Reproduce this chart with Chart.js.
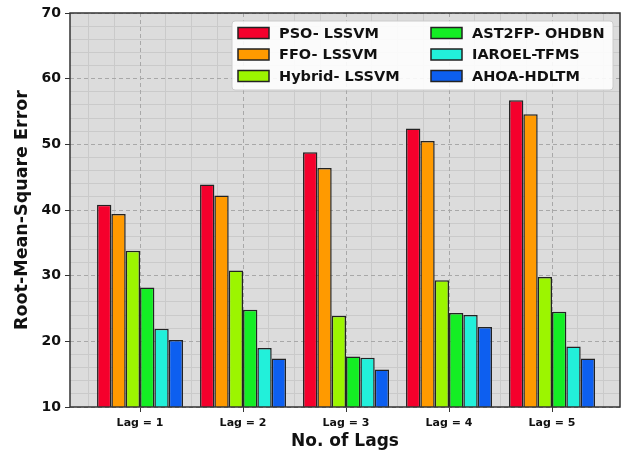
<!DOCTYPE html>
<html>
<head>
<meta charset="utf-8">
<script src="https://cdn.jsdelivr.net/npm/chart.js@4.4.1/dist/chart.umd.min.js"></script>
<style>
  html, body { margin: 0; padding: 0; background: #fff; }
  #wrap { width: 625px; height: 452px; }
</style>
</head>
<body>
<div id="wrap"><canvas id="rmseChart" width="625" height="452"></canvas></div>
<script>
// chart data
const categories = ["Lag = 1", "Lag = 2", "Lag = 3", "Lag = 4", "Lag = 5"];
const seriesNames = ["PSO- LSSVM", "FFO- LSSVM", "Hybrid- LSSVM", "AST2FP- OHDBN", "IAROEL-TFMS", "AHOA-HDLTM"];
const psoLssvm = [40.8, 43.9, 48.8, 52.4, 56.7];
const ffoLssvm = [39.4, 42.2, 46.4, 50.5, 54.6];
const hybridLssvm = [33.8, 30.8, 23.9, 29.3, 29.8];
const ast2fpOhdbn = [28.2, 24.8, 17.7, 24.3, 24.5];
const iaroelTfms = [21.9, 19.0, 17.5, 24.0, 19.2];
const ahoaHdltm = [20.2, 17.4, 15.7, 22.2, 17.4];
const yTicks = [10, 20, 30, 40, 50, 60, 70];

const colors = ["#f5002c", "#ff9a00", "#9cf500", "#14ee24", "#22f0da", "#0d5ff0"];
const allSeries = [psoLssvm, ffoLssvm, hybridLssvm, ast2fpOhdbn, iaroelTfms, ahoaHdltm];

const datasets = allSeries.map((vals, i) => ({
  label: seriesNames[i],
  data: vals.map((v, j) => ({ x: j, y: v })),
  backgroundColor: colors[i],
  borderColor: "#222",
  borderWidth: 1.5,
  borderSkipped: false,
  barPercentage: 1,
  categoryPercentage: 0.835,
}));

const X_MIN = -0.68, X_MAX = 4.66;

// grey plot background + frame
const plotFrame = {
  id: "plotFrame",
  beforeDraw(chart) {
    const { ctx, chartArea: a } = chart;
    ctx.save();
    ctx.fillStyle = "#dcdcdc";
    ctx.fillRect(a.left, a.top, a.right - a.left, a.bottom - a.top);
    ctx.restore();
  },
  afterDatasetsDraw(chart) {
    const { ctx, chartArea: a } = chart;
    ctx.save();
    ctx.strokeStyle = "#333";
    ctx.lineWidth = 1.5;
    ctx.strokeRect(a.left, a.top, a.right - a.left, a.bottom - a.top);
    ctx.restore();
  },
};

// two-column legend inside the plot
const boxLegend = {
  id: "boxLegend",
  afterDraw(chart) {
    const { ctx, chartArea: a } = chart;
    const x0 = a.right - 388, y0 = a.top + 8, w = 381, h = 69;
    ctx.save();
    ctx.fillStyle = "rgba(255,255,255,0.88)";
    ctx.strokeStyle = "#cccccc";
    ctx.lineWidth = 1;
    ctx.beginPath();
    ctx.roundRect(x0, y0, w, h, 3);
    ctx.fill();
    ctx.stroke();
    ctx.font = "bold 14.5px 'DejaVu Sans'";
    ctx.textBaseline = "middle";
    chart.data.datasets.forEach((ds, i) => {
      const col = Math.floor(i / 3), row = i % 3;
      const sx = x0 + 6 + col * 193;
      const cy = y0 + 12 + row * 21.5;
      ctx.fillStyle = ds.backgroundColor;
      ctx.strokeStyle = "#222";
      ctx.lineWidth = 1.5;
      ctx.fillRect(sx, cy - 5.5, 31, 11);
      ctx.strokeRect(sx, cy - 5.5, 31, 11);
      ctx.fillStyle = "#111";
      ctx.fillText(ds.label, sx + 41, cy + 1);
    });
    ctx.restore();
  },
};

new Chart(document.getElementById("rmseChart"), {
  type: "bar",
  data: { datasets },
  plugins: [plotFrame, boxLegend],
  options: {
    responsive: false,
    animation: false,
    layout: { padding: { top: 13, right: 5, left: 0, bottom: 0 } },
    plugins: { legend: { display: false }, tooltip: { enabled: false } },
    scales: {
      x: {
        type: "linear",
        min: X_MIN,
        max: X_MAX,
        offset: false,
        afterBuildTicks: (s) => { s.ticks = categories.map((c, i) => ({ value: i })); },
        afterFit: (s) => { s.height = 45; },
        ticks: {
          callback: (v) => categories[v],
          color: "#111",
          font: { family: "DejaVu Sans", weight: "bold", size: 11 },
          padding: 5,
          maxRotation: 0,
        },
        grid: { offset: false, color: "#a8a8a8", lineWidth: 1, tickColor: "#333", tickLength: 5, drawTicks: true },
        border: { display: false, dash: [4, 3] },
        title: {
          display: true,
          text: "No. of Lags",
          color: "#111",
          font: { family: "DejaVu Sans", weight: "bold", size: 17 },
          padding: { top: 0, bottom: 0 },
        },
      },
      xMinor: {
        type: "linear",
        position: "bottom",
        min: X_MIN,
        max: X_MAX,
        offset: false,
        afterBuildTicks: (s) => {
          const t = [];
          for (let i = 0; i < categories.length; i++) [-0.5, -0.25, 0.25, 0.5].forEach((d) => t.push({ value: i + d }));
          s.ticks = t.filter((k) => k.value > X_MIN && k.value < X_MAX);
        },
        afterFit: (s) => { s.height = 0; },
        ticks: { display: false },
        grid: { offset: false, color: "#cacaca", lineWidth: 1, z: -2, drawTicks: false },
        border: { display: false },
      },
      y: {
        min: 10,
        max: 70,
        afterBuildTicks: (s) => { s.ticks = yTicks.map((v) => ({ value: v })); },
        afterFit: (s) => { s.width = 70; },
        ticks: {
          color: "#111",
          font: { family: "DejaVu Sans", weight: "bold", size: 14 },
          padding: 4,
        },
        grid: { color: "#a8a8a8", lineWidth: 1, tickColor: "#333", tickLength: 5 },
        border: { display: false, dash: [4, 3] },
        title: {
          display: true,
          text: "Root-Mean-Square Error",
          color: "#111",
          font: { family: "DejaVu Sans", weight: "bold", size: 17.5 },
          padding: { top: 12, bottom: 0 },
        },
      },
      yMinor: {
        position: "left",
        min: 10,
        max: 70,
        afterBuildTicks: (s) => {
          const t = [];
          for (let v = 12; v < 70; v += 2) if (v % 10 !== 0) t.push({ value: v });
          s.ticks = t;
        },
        afterFit: (s) => { s.width = 0; },
        ticks: { display: false },
        grid: { color: "#cacaca", lineWidth: 1, z: -2, drawTicks: false },
        border: { display: false },
      },
    },
  },
});
</script>
</body>
</html>
